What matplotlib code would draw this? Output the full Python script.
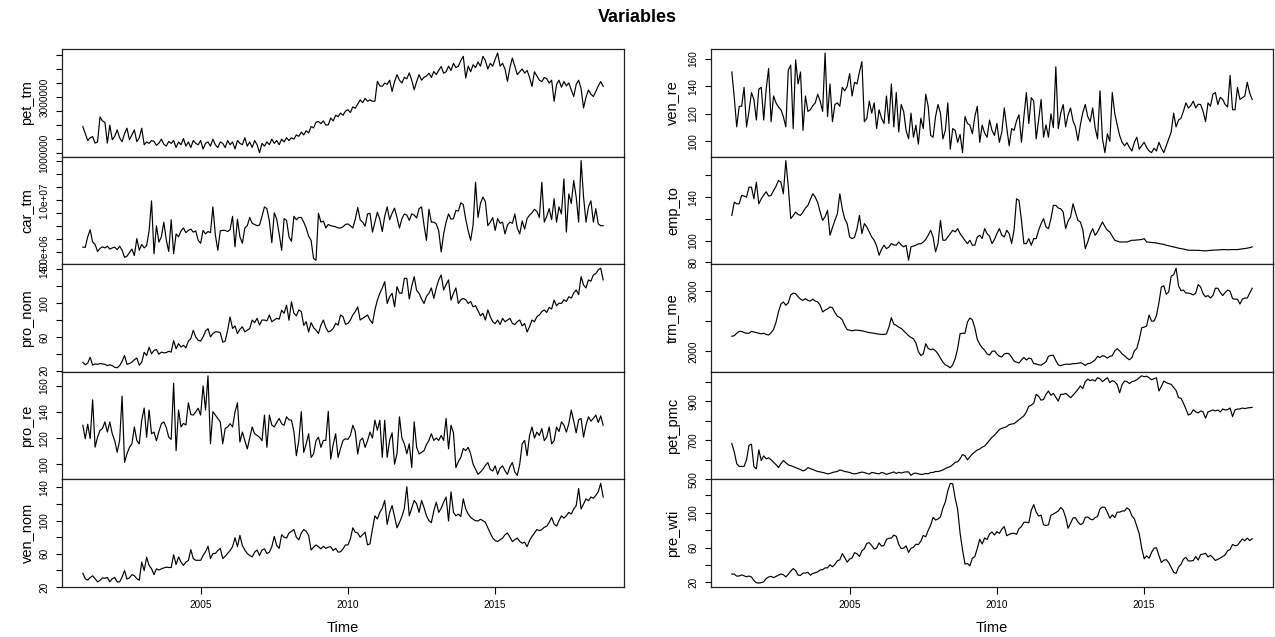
import numpy as np
import matplotlib.pyplot as plt

plt.rcParams["font.family"] = ["Liberation Sans", "DejaVu Sans"]

# monthly series, Jan 2001 - Sep 2018
start_year = 2001
n_months = 213

pet_tm = [  # millions
    1.95, 1.70, 1.45, 1.55, 1.59, 1.36, 1.40, 2.29, 2.15, 2.10, 1.36, 2.00,
    1.48, 1.60, 1.83, 1.55, 1.41, 1.70, 1.89, 1.48, 1.65, 1.83, 1.41, 1.55,
    1.89, 1.30, 1.40, 1.35, 1.45, 1.42, 1.28, 1.36, 1.50, 1.32, 1.25, 1.42,
    1.35, 1.45, 1.20, 1.40, 1.30, 1.52, 1.25, 1.40, 1.20, 1.45, 1.35, 1.30,
    1.45, 1.15, 1.35, 1.40, 1.25, 1.50, 1.30, 1.20, 1.40, 1.35, 1.20, 1.45,
    1.30, 1.40, 1.15, 1.45, 1.35, 1.30, 1.55, 1.25, 1.40, 1.20, 1.45, 1.30,
    1.02, 1.35, 1.25, 1.40, 1.30, 1.50, 1.35, 1.45, 1.30, 1.50, 1.40, 1.55,
    1.45, 1.55, 1.50, 1.65, 1.60, 1.75, 1.65, 1.80, 1.72, 1.95, 1.90, 2.10,
    2.13, 2.05, 2.15, 2.00, 2.01, 2.25, 2.15, 2.35, 2.30, 2.43, 2.35, 2.50,
    2.55, 2.45, 2.65, 2.60, 2.75, 2.90, 2.80, 2.95, 2.85, 2.90, 2.85, 2.85,
    3.56, 3.40, 3.38, 3.50, 3.45, 3.60, 3.20, 3.55, 3.80, 3.60, 3.50, 3.70,
    3.65, 3.86, 3.60, 3.26, 3.55, 3.80, 3.60, 3.70, 3.75, 3.85, 3.70, 3.91,
    3.80, 3.95, 4.09, 3.85, 3.90, 4.10, 3.95, 4.20, 4.05, 4.10, 4.30, 4.45,
    3.68, 4.10, 3.90, 4.15, 4.05, 4.25, 4.10, 4.45, 4.30, 4.00, 4.20, 4.10,
    4.35, 4.57, 4.10, 4.20, 4.00, 3.56, 4.05, 4.39, 4.10, 3.80, 3.90, 4.00,
    3.85, 3.95, 3.70, 3.38, 3.90, 3.75, 3.60, 3.55, 3.70, 3.65, 3.50, 3.60,
    2.85, 3.45, 3.60, 3.35, 3.55, 3.40, 3.50, 3.25, 3.02, 3.45, 3.60, 3.30,
    2.61, 3.00, 3.25, 3.10, 3.02, 3.20, 3.40, 3.55, 3.38,
]

car_tm = [  # millions
    5.51, 5.49, 6.50, 7.18, 5.99, 5.77, 5.09, 5.38, 5.54, 5.43, 5.60, 5.32,
    5.43, 5.51, 5.26, 5.60, 5.21, 4.53, 4.64, 4.98, 5.32, 4.70, 6.33, 5.21,
    5.77, 5.43, 5.66, 7.07, 9.96, 4.87, 7.57, 5.99, 6.50, 7.91, 6.22, 5.09,
    8.14, 4.87, 6.78, 6.50, 7.07, 7.35, 6.90, 7.12, 7.24, 6.95, 7.07, 6.16,
    5.88, 7.12, 6.78, 7.01, 6.90, 9.38, 6.67, 5.21, 7.07, 7.12, 7.12, 7.01,
    7.18, 8.47, 5.54, 8.19, 6.50, 5.88, 7.35, 7.57, 8.36, 7.80, 7.69, 7.57,
    7.63, 8.47, 9.38, 9.21, 8.02, 5.94, 8.81, 8.19, 6.78, 5.21, 8.25, 8.08,
    6.50, 6.05, 8.47, 8.14, 8.36, 8.36, 7.91, 7.35, 6.56, 6.16, 4.42, 4.25,
    8.76, 7.91, 8.02, 7.35, 7.69, 7.57, 7.52, 7.46, 7.35, 7.35, 7.46, 7.69,
    7.74, 7.57, 7.35, 8.19, 9.32, 8.14, 7.91, 7.52, 8.70, 8.76, 6.95, 7.91,
    8.87, 8.19, 7.01, 8.47, 9.38, 8.14, 8.76, 9.26, 8.36, 7.35, 8.25, 8.70,
    8.59, 8.08, 8.70, 8.59, 8.31, 9.21, 9.38, 7.63, 6.16, 9.15, 7.91, 7.91,
    7.74, 7.07, 5.04, 6.78, 7.91, 8.70, 8.19, 8.25, 9.04, 8.98, 9.77, 9.60,
    8.19, 7.07, 6.16, 7.63, 11.74, 8.36, 9.71, 10.33, 9.88, 7.57, 7.91, 8.36,
    7.12, 8.25, 7.80, 7.91, 6.78, 7.63, 7.91, 7.80, 8.70, 7.35, 6.78, 8.02,
    7.24, 8.25, 8.59, 8.81, 9.15, 8.93, 8.36, 11.74, 7.91, 8.47, 9.21, 8.14,
    10.16, 7.91, 9.38, 8.70, 12.08, 6.95, 10.62, 9.71, 11.91, 10.33, 7.91, 13.83,
    10.33, 7.91, 9.38, 9.96, 7.91, 9.21, 7.74, 7.57, 7.57,
]

pro_nom = [
    29.9, 27.0, 29.0, 35.9, 26.5, 28.0, 27.5, 28.5, 28.0, 27.5, 26.0, 27.0,
    26.0, 24.0, 23.4, 26.0, 31.0, 37.9, 27.5, 28.5, 30.0, 33.0, 35.0, 26.5,
    30.0, 41.8, 38.0, 47.8, 40.0, 44.0, 45.0, 39.5, 42.0, 41.0, 41.5, 43.0,
    42.0, 55.8, 46.0, 52.0, 48.0, 50.0, 47.0, 55.0, 58.0, 67.8, 60.0, 56.0,
    55.0, 60.0, 67.0, 69.8, 60.0, 64.0, 66.0, 66.0, 65.0, 53.8, 55.0, 68.0,
    83.7, 70.0, 73.0, 64.0, 69.0, 72.0, 66.0, 68.0, 70.0, 80.0, 77.0, 82.0,
    74.0, 80.0, 80.0, 79.0, 86.0, 78.0, 80.0, 82.0, 81.0, 91.6, 88.0, 97.6,
    79.7, 101.6, 88.0, 85.0, 92.0, 90.0, 73.7, 78.0, 65.8, 77.0, 71.0, 68.0,
    64.0, 74.0, 80.0, 71.0, 66.0, 67.0, 70.0, 76.0, 74.0, 86.0, 84.0, 75.0,
    76.0, 80.0, 86.0, 90.0, 95.6, 80.0, 82.0, 84.0, 86.0, 80.0, 76.0, 92.0,
    103.6, 111.6, 118.0, 125.4, 99.6, 107.6, 111.6, 95.6, 119.5, 112.0, 111.6, 129.4,
    129.4, 105.0, 120.0, 131.4, 115.0, 111.6, 105.0, 99.6, 108.0, 111.6, 118.0, 105.6,
    118.0, 127.5, 133.4, 115.6, 122.0, 127.5, 103.6, 111.6, 118.0, 99.6, 104.0, 105.6,
    104.0, 99.6, 102.0, 95.6, 97.0, 91.0, 85.0, 88.0, 80.0, 92.0, 84.0, 78.0,
    75.7, 80.0, 74.7, 82.0, 78.0, 80.0, 82.0, 76.0, 74.7, 78.0, 80.0, 73.0,
    76.0, 65.8, 72.0, 80.0, 78.0, 84.0, 86.0, 90.0, 92.0, 89.0, 95.0, 93.0,
    103.6, 97.0, 100.0, 99.6, 104.0, 102.0, 107.6, 106.0, 112.0, 115.6, 110.0, 131.4,
    121.5, 118.0, 127.5, 126.0, 133.4, 135.0, 139.4, 141.4, 127.5,
]

pro_re = [
    129.8, 119.5, 130.6, 119.5, 149.3, 113.0, 120.7, 125.9, 127.3, 132.4, 124.6, 132.4,
    123.3, 118.0, 109.1, 118.2, 152.2, 101.3, 108.0, 112.9, 115.6, 128.5, 118.2, 115.6,
    133.7, 143.0, 120.7, 141.5, 123.3, 124.6, 118.0, 125.0, 131.0, 132.4, 128.0, 120.7,
    119.0, 162.0, 110.4, 141.5, 128.5, 131.2, 130.0, 147.0, 138.0, 137.6, 140.0, 142.9,
    137.6, 160.0, 141.5, 167.7, 115.6, 140.2, 137.6, 135.0, 132.4, 115.6, 127.3, 128.5,
    131.0, 128.5, 140.0, 147.0, 117.0, 124.6, 118.0, 111.7, 120.0, 128.5, 123.3, 122.0,
    120.7, 118.0, 137.6, 112.9, 137.6, 130.0, 128.5, 132.0, 135.0, 131.0, 129.8, 136.3,
    134.0, 133.7, 125.0, 106.5, 118.2, 140.2, 109.0, 115.6, 123.3, 105.2, 107.8, 118.0,
    120.7, 112.9, 118.2, 118.2, 140.5, 103.9, 115.0, 123.3, 105.2, 112.0, 118.2, 119.5,
    119.0, 122.0, 129.8, 125.0, 107.8, 118.2, 120.0, 112.9, 118.0, 124.6, 120.0, 133.7,
    126.0, 133.7, 105.2, 133.7, 105.2, 118.2, 124.0, 100.0, 108.0, 136.3, 120.0, 115.6,
    108.0, 115.6, 97.4, 132.4, 112.9, 107.8, 109.0, 110.4, 115.0, 118.2, 123.3, 118.2,
    120.0, 118.2, 122.0, 118.2, 135.0, 111.7, 129.8, 124.0, 97.4, 102.0, 105.2, 112.0,
    110.4, 112.9, 108.0, 100.0, 96.0, 92.2, 94.0, 96.1, 99.0, 101.3, 96.0, 94.8,
    98.7, 92.2, 97.0, 98.7, 95.0, 92.2, 98.0, 101.3, 94.0, 91.4, 100.0, 115.6,
    118.2, 106.5, 122.0, 128.5, 120.0, 124.6, 122.0, 127.3, 118.0, 120.7, 128.5, 115.6,
    118.0, 128.5, 125.0, 132.4, 130.0, 124.6, 131.0, 141.5, 133.0, 124.0, 134.0, 135.0,
    120.7, 130.0, 136.3, 133.0, 135.0, 137.6, 132.0, 137.0, 129.8,
]

ven_nom = [
    36.5, 30.0, 28.2, 31.5, 33.5, 30.0, 26.2, 28.0, 31.0, 30.5, 31.5, 26.2,
    30.0, 31.5, 26.2, 26.2, 32.0, 39.8, 29.5, 31.0, 34.9, 33.6, 30.0, 28.2,
    50.1, 39.8, 55.9, 46.0, 42.0, 34.9, 41.9, 40.5, 41.9, 43.0, 43.9, 43.5,
    43.5, 58.9, 47.0, 56.3, 50.0, 46.0, 50.1, 52.0, 65.1, 54.3, 52.2, 52.2,
    52.2, 58.0, 62.5, 69.1, 54.3, 60.4, 60.4, 64.0, 66.6, 54.3, 57.0, 60.4,
    64.0, 68.6, 79.4, 68.6, 82.3, 70.0, 64.6, 60.4, 58.0, 56.3, 62.0, 64.6,
    58.0, 64.6, 66.0, 60.4, 62.0, 68.6, 81.0, 70.0, 66.6, 83.1, 80.0, 79.0,
    85.2, 87.0, 89.3, 80.0, 76.9, 85.0, 89.3, 87.2, 82.0, 64.6, 68.0, 70.7,
    68.6, 66.0, 69.0, 66.6, 68.0, 68.6, 64.0, 66.6, 62.0, 62.5, 66.0, 70.7,
    70.7, 78.0, 91.4, 86.0, 85.2, 80.0, 83.1, 86.0, 70.7, 72.0, 90.0, 105.8,
    102.0, 110.0, 115.0, 124.4, 95.5, 110.0, 118.2, 105.0, 91.4, 97.6, 105.0, 115.0,
    140.9, 105.8, 115.0, 124.4, 120.3, 110.0, 124.4, 116.0, 105.8, 100.0, 97.6, 112.0,
    122.3, 110.0, 115.0, 122.3, 128.5, 99.6, 134.7, 110.0, 105.8, 107.9, 105.0, 126.4,
    114.1, 108.0, 104.0, 101.7, 100.0, 99.6, 101.7, 100.0, 98.0, 91.4, 85.0, 79.0,
    76.0, 74.8, 77.0, 79.0, 83.0, 85.2, 80.0, 74.8, 77.0, 79.0, 75.0, 72.8,
    74.0, 68.6, 76.0, 81.0, 85.0, 89.3, 88.0, 89.3, 92.0, 93.4, 98.0, 103.8,
    96.0, 93.4, 100.0, 105.8, 103.0, 106.0, 110.0, 108.0, 114.1, 118.0, 138.8, 114.1,
    120.0, 126.4, 124.0, 128.5, 127.0, 130.5, 135.0, 145.0, 128.5,
]

ven_re = [
    150.5, 131.8, 110.5, 125.5, 125.5, 139.3, 110.5, 121.8, 135.5, 130.5, 115.5, 138.0,
    139.3, 115.5, 138.0, 153.0, 114.3, 133.0, 128.0, 125.0, 123.0, 118.0, 110.5, 151.8,
    155.5, 109.3, 159.3, 141.8, 150.5, 108.0, 133.0, 121.8, 123.0, 126.0, 128.0, 134.3,
    129.3, 121.8, 164.3, 118.0, 141.8, 114.3, 126.8, 128.0, 125.5, 139.3, 136.8, 140.0,
    149.3, 133.0, 143.0, 141.8, 150.5, 158.0, 114.3, 116.8, 129.3, 120.5, 128.0, 109.3,
    123.0, 116.8, 113.0, 133.0, 113.0, 141.8, 110.5, 135.5, 106.8, 126.8, 121.8, 108.0,
    101.8, 120.5, 103.0, 111.8, 98.0, 116.8, 109.3, 134.3, 125.5, 104.3, 103.0, 118.0,
    126.8, 120.5, 101.8, 108.0, 128.0, 94.3, 109.3, 108.0, 99.3, 105.0, 91.8, 118.0,
    113.0, 111.8, 105.5, 118.0, 125.5, 99.3, 111.8, 106.0, 103.0, 115.5, 108.0, 104.3,
    113.0, 99.3, 106.8, 124.3, 110.0, 96.8, 109.3, 108.0, 115.0, 119.3, 99.3, 118.0,
    135.5, 113.0, 131.8, 129.3, 101.8, 115.5, 130.5, 103.0, 112.0, 103.0, 120.0, 110.0,
    154.3, 109.3, 120.5, 126.8, 110.5, 119.3, 124.3, 115.0, 110.5, 100.5, 112.0, 121.0,
    126.8, 118.0, 114.3, 124.3, 110.0, 101.8, 136.8, 101.8, 91.8, 105.5, 100.0, 135.5,
    120.5, 112.0, 104.3, 99.3, 96.8, 99.0, 95.5, 93.0, 99.3, 103.0, 94.3, 97.0,
    99.3, 95.5, 93.0, 91.8, 95.0, 93.0, 99.3, 95.0, 91.8, 96.8, 102.0, 106.8,
    120.5, 110.5, 115.5, 116.8, 122.0, 128.0, 124.3, 126.0, 129.3, 124.3, 127.0, 126.8,
    121.8, 114.3, 128.0, 125.5, 134.3, 135.5, 126.8, 132.0, 130.5, 126.8, 125.0, 148.0,
    123.0, 123.0, 139.3, 130.5, 131.8, 133.0, 143.0, 135.0, 130.5,
]

emp_to = [
    123.2, 135.4, 133.9, 133.9, 141.6, 141.0, 140.0, 149.2, 149.2, 138.5, 153.8, 133.9,
    138.5, 142.0, 145.0, 141.0, 141.6, 146.0, 150.0, 155.3, 153.8, 143.1, 173.7, 150.0,
    120.2, 123.0, 126.3, 124.0, 123.2, 126.3, 130.0, 132.4, 138.0, 143.1, 140.0, 135.0,
    126.3, 118.6, 122.0, 127.8, 104.9, 112.0, 118.6, 124.7, 143.1, 129.3, 120.0, 115.6,
    103.3, 101.8, 103.0, 111.0, 123.2, 106.4, 115.6, 112.5, 108.0, 103.3, 100.3, 95.0,
    86.5, 92.0, 95.7, 92.6, 94.0, 97.2, 96.0, 95.7, 98.7, 96.0, 94.2, 95.7,
    81.9, 94.2, 95.0, 95.7, 97.0, 97.0, 98.7, 101.0, 104.9, 109.5, 103.3, 89.6,
    97.2, 118.6, 100.3, 100.3, 103.3, 106.4, 109.5, 108.0, 111.0, 106.4, 103.3, 100.0,
    97.2, 100.3, 95.7, 95.7, 103.3, 104.9, 101.8, 111.0, 106.4, 104.0, 97.2, 101.0,
    106.4, 111.0, 105.0, 103.3, 109.5, 106.4, 97.2, 110.0, 138.5, 137.0, 118.6, 97.2,
    97.2, 101.8, 95.7, 101.8, 101.8, 109.5, 115.6, 120.2, 112.5, 111.0, 120.0, 132.4,
    132.4, 130.0, 129.3, 126.3, 111.0, 118.0, 121.7, 133.9, 126.0, 118.6, 117.1, 110.0,
    92.6, 98.7, 106.0, 111.0, 104.9, 108.0, 112.5, 117.1, 113.0, 109.5, 107.9, 104.0,
    100.3, 99.5, 98.7, 98.7, 98.7, 98.7, 99.5, 100.3, 100.3, 100.5, 100.6, 101.0,
    101.8, 98.7, 98.5, 98.2, 98.2, 97.8, 97.2, 96.8, 96.5, 95.7, 95.2, 94.8,
    94.2, 93.6, 93.0, 92.6, 92.2, 91.6, 91.1, 91.1, 91.0, 91.1, 91.0, 90.8,
    90.6, 90.5, 90.8, 91.0, 91.1, 91.2, 91.4, 91.5, 91.7, 91.7, 91.5, 91.7,
    91.7, 91.8, 91.7, 92.0, 92.3, 92.6, 93.0, 93.5, 94.2,
]

trm_me = [
    2250, 2260, 2300, 2330, 2330, 2310, 2300, 2300, 2330, 2320, 2310, 2300,
    2290, 2300, 2280, 2270, 2310, 2360, 2480, 2650, 2780, 2815, 2760, 2800,
    2930, 2960, 2950, 2900, 2860, 2840, 2870, 2840, 2830, 2860, 2830, 2813,
    2760, 2650, 2680, 2700, 2731, 2720, 2640, 2580, 2560, 2520, 2429, 2358,
    2350, 2340, 2350, 2350, 2345, 2340, 2330, 2320, 2310, 2305, 2300, 2290,
    2285, 2280, 2280, 2290, 2400, 2556, 2450, 2430, 2400, 2380, 2340, 2300,
    2260, 2230, 2210, 2140, 2000, 1934, 1960, 2127, 2050, 2030, 2040, 2010,
    1960, 1890, 1824, 1780, 1760, 1731, 1780, 1880, 2050, 2292, 2300, 2300,
    2484, 2550, 2520, 2390, 2200, 2120, 2060, 2020, 1960, 1940, 2000, 2010,
    1960, 1920, 1910, 1960, 1970, 1960, 1906, 1840, 1824, 1810, 1860, 1900,
    1860, 1890, 1880, 1800, 1795, 1780, 1775, 1800, 1830, 1920, 1935, 1935,
    1850, 1780, 1765, 1780, 1790, 1790, 1790, 1800, 1800, 1805, 1815, 1800,
    1770, 1800, 1805, 1830, 1860, 1920, 1900, 1930, 1920, 1890, 1920, 1930,
    2010, 2045, 2010, 1960, 1930, 1890, 1863, 1900, 2010, 2050, 2200, 2390,
    2400, 2420, 2600, 2500, 2500, 2590, 2800, 3060, 3080, 2940, 2980, 3240,
    3260, 3370, 3080, 3000, 3010, 2960, 2960, 2950, 2930, 2960, 3100, 3060,
    2950, 2900, 2920, 2880, 2920, 3040, 3040, 2970, 2920, 2970, 3010, 2990,
    2870, 2860, 2860, 2780, 2860, 2880, 2880, 2960, 3040,
]

pet_pmc = [
    683, 640, 580, 566, 566, 566, 600, 674, 680, 565, 554, 651,
    596, 620, 605, 610, 600, 588, 575, 560, 580, 596, 585, 574,
    570, 565, 560, 555, 550, 543, 548, 560, 555, 550, 545, 540,
    538, 535, 532, 528, 530, 535, 538, 540, 548, 545, 540, 538,
    535, 530, 528, 530, 534, 537, 535, 530, 527, 535, 533, 530,
    528, 535, 532, 525, 530, 533, 538, 530, 536, 532, 536, 538,
    538, 520, 530, 532, 528, 525, 526, 530, 528, 535, 535, 540,
    540, 543, 548, 555, 561, 565, 575, 587, 590, 605, 627, 620,
    600, 615, 630, 640, 650, 655, 665, 670, 685, 700, 715, 726,
    740, 755, 761, 765, 770, 780, 783, 785, 795, 805, 815, 825,
    845, 874, 880, 890, 935, 925, 905, 909, 935, 952, 930, 940,
    920, 900, 935, 935, 940, 930, 918, 930, 945, 960, 978, 965,
    1000, 1013, 1005, 1010, 1003, 1020, 1015, 1000, 1010, 1020, 995, 1005,
    1000, 985, 943, 985, 1003, 1000, 990, 1000, 1003, 1010, 1020, 1030,
    1025, 1028, 1020, 1010, 1015, 1020, 952, 975, 1003, 995, 990, 986,
    970, 955, 918, 915, 890, 860, 829, 835, 856, 845, 840, 850,
    845, 813, 845, 850, 855, 850, 855, 845, 860, 855, 857, 865,
    821, 855, 860, 860, 865, 862, 865, 867, 868,
]

pre_wti = [
    29.6, 29.6, 27.2, 27.4, 28.6, 27.6, 26.4, 27.4, 26.2, 22.2, 19.6, 19.3,
    19.7, 20.7, 24.5, 26.2, 27.0, 25.5, 26.9, 28.4, 29.7, 28.9, 26.3, 29.4,
    32.9, 35.9, 33.6, 28.3, 28.1, 30.7, 30.8, 31.6, 28.3, 30.3, 31.1, 32.2,
    34.3, 34.7, 36.7, 36.7, 40.3, 38.0, 40.7, 44.9, 46.0, 53.1, 48.5, 43.3,
    46.8, 48.1, 54.2, 53.0, 49.8, 56.3, 58.7, 65.0, 65.6, 62.4, 58.3, 59.4,
    65.5, 61.6, 62.7, 69.4, 70.8, 70.9, 74.4, 73.0, 63.8, 58.9, 59.4, 62.0,
    54.5, 59.3, 60.4, 63.9, 63.5, 67.5, 74.1, 72.4, 79.9, 85.8, 94.8, 91.7,
    93.0, 95.4, 105.5, 112.6, 125.4, 133.9, 133.4, 116.7, 104.1, 76.6, 57.3, 41.1,
    41.7, 39.1, 47.9, 49.7, 59.0, 69.6, 64.2, 71.1, 69.4, 75.7, 78.0, 74.5,
    78.3, 76.4, 81.2, 84.3, 73.7, 75.3, 76.3, 76.6, 75.2, 81.9, 84.3, 89.2,
    89.2, 88.6, 102.9, 109.5, 100.9, 96.3, 97.3, 86.3, 85.5, 86.3, 97.2, 98.6,
    100.3, 102.2, 106.2, 103.3, 94.7, 82.3, 87.9, 94.1, 94.5, 89.5, 86.5, 87.9,
    94.8, 95.3, 92.9, 92.0, 94.5, 95.8, 104.6, 106.6, 106.3, 100.5, 93.9, 97.6,
    94.6, 100.8, 100.8, 102.1, 102.2, 105.8, 103.6, 96.5, 93.2, 84.4, 75.8, 59.3,
    47.2, 50.6, 47.8, 54.5, 59.3, 59.8, 50.9, 42.9, 45.5, 46.2, 42.7, 37.3,
    31.8, 30.3, 37.6, 40.8, 46.7, 48.8, 44.7, 44.7, 45.2, 49.8, 45.7, 52.0,
    52.5, 53.5, 49.3, 51.1, 48.5, 45.2, 46.6, 48.0, 49.8, 51.6, 56.6, 57.9,
    63.7, 62.2, 62.7, 66.3, 70.0, 67.9, 71.0, 68.1, 70.2,
]

time = start_year + np.arange(n_months) / 12

left_panels = [
    ("pet_tm", np.array(pet_tm) * 1e6, np.arange(1e6, 4.6e6, 5e5), {1e6: "1000000", 3e6: "3000000"}),
    ("car_tm", np.array(car_tm) * 1e6, np.arange(5e6, 1.4e7, 1.25e6), {5e6: "5.0e+06", 1e7: "1.0e+07"}),
    ("pro_nom", np.array(pro_nom), np.arange(20, 141, 20), {20: "20", 60: "60", 100: "100", 140: "140"}),
    ("pro_re", np.array(pro_re), np.arange(100, 161, 20), {100: "100", 120: "120", 140: "140", 160: "160"}),
    ("ven_nom", np.array(ven_nom), np.arange(20, 141, 20), {20: "20", 60: "60", 100: "100", 140: "140"}),
]
right_panels = [
    ("ven_re", np.array(ven_re), np.arange(100, 161, 20), {100: "100", 120: "120", 140: "140", 160: "160"}),
    ("emp_to", np.array(emp_to), np.arange(80, 161, 20), {80: "80", 100: "100", 140: "140"}),
    ("trm_me", np.array(trm_me), np.arange(2000, 3001, 500), {2000: "2000", 3000: "3000"}),
    ("pet_pmc", np.array(pet_pmc), np.arange(500, 1001, 100), {500: "500", 700: "700", 900: "900"}),
    ("pre_wti", np.array(pre_wti), np.arange(20, 121, 20), {20: "20", 60: "60", 100: "100"}),
]

W, H = 1275, 637
fig = plt.figure(figsize=(W / 100, H / 100), dpi=100)

top_px, bottom_px = 49, 587
panel_h = (bottom_px - top_px) / 5
xlim = (time[0] - 0.04 * (time[-1] - time[0]), time[-1] + 0.04 * (time[-1] - time[0]))

columns = [(62, 624, 27, left_panels), (711, 1273, 673, right_panels)]

for x0, x1, label_x, panels in columns:
    for k, (name, values, ticks, shown) in enumerate(panels):
        y_top = top_px + k * panel_h
        ax = fig.add_axes([x0 / W, 1 - (y_top + panel_h) / H, (x1 - x0) / W, panel_h / H])
        ax.plot(time, values, color="black", lw=0.85)
        lo, hi = values.min(), values.max()
        pad = 0.04 * (hi - lo)
        ax.set_ylim(lo - pad, hi + pad)
        ax.set_xlim(xlim)
        ax.set_yticks(ticks)
        ax.set_yticklabels([shown.get(t, "") for t in ticks])
        ax.tick_params(axis="y", labelrotation=90, labelsize=7.2, length=4, width=0.8, pad=5)
        for lbl in ax.get_yticklabels():
            lbl.set_va("center")
        if k == len(panels) - 1:
            ax.set_xticks([2005, 2010, 2015])
            ax.tick_params(axis="x", labelsize=7.2, length=5, width=0.8, pad=4)
        else:
            ax.set_xticks([])
        for s in ax.spines.values():
            s.set_linewidth(0.9)
            s.set_color("#222222")
        fig.text(label_x / W, 1 - (y_top + panel_h / 2) / H, name, rotation=90,
                 ha="center", va="center", fontsize=10.5)
    fig.text((x0 + x1) / 2 / W, 1 - 628 / H, "Time", ha="center", va="center", fontsize=10.5)

fig.text(0.5, 1 - 17 / H, "Variables", ha="center", va="center", fontsize=13, fontweight="bold")

plt.savefig("out.png", dpi=100)
